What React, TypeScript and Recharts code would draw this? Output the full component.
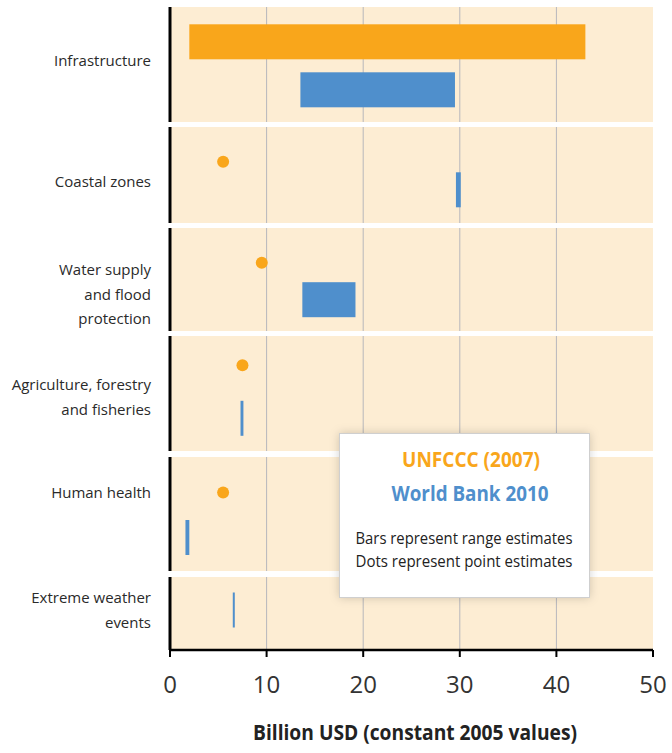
import React from 'react'
import { Bar, CartesianGrid, Cell, ComposedChart, ReferenceLine, XAxis, YAxis } from 'recharts'

const CATEGORY_LINES: string[][] = [
  ['Infrastructure'],
  ['Coastal zones'],
  ['Water supply', 'and flood', 'protection'],
  ['Agriculture, forestry', 'and fisheries'],
  ['Human health'],
  ['Extreme weather', 'events'],
]
// UNFCCC gives a range for infrastructure and point estimates elsewhere
const UNFCCC_RANGE: ([number, number] | null)[] = [[2, 43], null, null, null, null, null]
const UNFCCC_POINT: (number | null)[] = [null, 5.5, 9.5, 7.5, 5.5, null]
const WORLD_BANK_RANGE: [number, number][] = [
  [13.5, 29.5],
  [29.6, 30.1],
  [13.7, 19.2],
  [7.3, 7.6],
  [1.6, 2.0],
  [6.5, 6.7],
]
const X_TICKS = [0, 10, 20, 30, 40, 50]
const GRID_VALUES = [10, 20, 30, 40]
const SOURCES = ['UNFCCC (2007)', 'World Bank 2010']
const NOTES = ['Bars represent range estimates', 'Dots represent point estimates']
const AXIS_TITLE = 'Billion USD (constant 2005 values)'

const ORANGE = '#F9A61B'
const BLUE = '#4F8FCC'
const PANEL_BG = '#FDEDD3'
const FONT = '"Open Sans", Lato, sans-serif'

// panel geometry (page pixels)
const PANELS = [
  { top: 7, height: 115, padTop: 11, padBottom: 8, label: 66 },
  { top: 127, height: 96, padTop: 21, padBottom: 19, label: 187 },
  { top: 228, height: 103, padTop: 16, padBottom: 13, label: 275 },
  { top: 336, height: 115, padTop: 3, padBottom: 6, label: 390 },
  { top: 457, height: 114, padTop: 13, padBottom: 11, label: 498 },
  { top: 577, height: 73, padTop: 13, padBottom: 20, label: 603 },
]
const AXIS_HEIGHT = 103

type Row = { source: string; range: [number, number]; point: boolean; color: string }

function rowsFor(i: number): Row[] {
  const rows: Row[] = []
  const r = UNFCCC_RANGE[i]
  const p = UNFCCC_POINT[i]
  if (r) rows.push({ source: 'UNFCCC', range: r, point: false, color: ORANGE })
  else if (p != null) rows.push({ source: 'UNFCCC', range: [p, p], point: true, color: ORANGE })
  rows.push({ source: 'World Bank', range: WORLD_BANK_RANGE[i], point: false, color: BLUE })
  return rows
}

function RangeShape(props: any) {
  const { x, y, width, height, payload } = props
  const cy = y + height / 2
  if (payload.point) return <circle cx={x} cy={cy} r={6} fill={payload.color} />
  return <rect x={x} y={cy - 17.5} width={Math.max(width, 2)} height={35} fill={payload.color} />
}

// tick labels sit 43px under the axis line (plot bottom of the last panel)
function XTick(props: any) {
  const baseline = PANELS[PANELS.length - 1].height + 43
  return (
    <text x={props.x} y={baseline} textAnchor="middle" fontFamily={FONT} fontSize={24} fill="#333">
      {props.payload.value}
    </text>
  )
}

function AxisTitle() {
  const baseline = PANELS[PANELS.length - 1].height + 90
  return (
    <text
      x={415}
      y={baseline}
      textAnchor="middle"
      fontFamily={FONT}
      fontWeight="bold"
      fontSize={21}
      fill="#222"
      textLength={324}
      lengthAdjust="spacingAndGlyphs"
    >
      {AXIS_TITLE}
    </text>
  )
}

function Panel({ index }: { index: number }) {
  const layout = PANELS[index]
  const last = index === PANELS.length - 1
  const axisH = last ? AXIS_HEIGHT : 0
  const rows = rowsFor(index)
  return (
    <div style={{ position: 'absolute', left: 0, top: layout.top }}>
      <ComposedChart
        width={672}
        height={layout.height + axisH}
        data={rows}
        layout="vertical"
        margin={{ top: 0, right: 19, bottom: 0, left: 170 }}
      >
        <CartesianGrid horizontal={false} verticalValues={GRID_VALUES} stroke="#B7B7BC" fill={PANEL_BG} fillOpacity={1} />
        <XAxis
          type="number"
          domain={[0, 50]}
          ticks={X_TICKS}
          interval={0}
          hide={!last}
          height={axisH}
          axisLine={{ stroke: '#000', strokeWidth: 2.5 }}
          tickLine={{ stroke: '#000', strokeWidth: 2 }}
          tickSize={7}
          tick={<XTick />}
          label={last ? { content: <AxisTitle /> } : undefined}
        />
        <YAxis type="category" dataKey="source" hide padding={{ top: layout.padTop, bottom: layout.padBottom }} />
        <ReferenceLine x={0} stroke="#000" strokeWidth={3} />
        <Bar dataKey="range" shape={RangeShape} isAnimationActive={false}>
          {rows.map((row, i) => (
            <Cell key={i} fill={row.color} />
          ))}
        </Bar>
      </ComposedChart>
    </div>
  )
}

function Overlay() {
  return (
    <svg width={672} height={753} style={{ position: 'absolute', left: 0, top: 0, pointerEvents: 'none' }}>
      <defs>
        <filter id="legendShadow" x="-10%" y="-10%" width="120%" height="120%">
          <feDropShadow dx="0" dy="0" stdDeviation="5" floodColor="#000" floodOpacity="0.18" />
        </filter>
      </defs>
      {CATEGORY_LINES.map((lines, i) => (
        <text key={i} x={151} y={PANELS[i].label} textAnchor="end" fontFamily={FONT} fontSize={15} fill="#2a2a2a">
          {lines.map((line, j) => (
            <tspan key={j} x={151} dy={j === 0 ? 0 : 24.5}>
              {line}
            </tspan>
          ))}
        </text>
      ))}
      <rect x={339.5} y={433.5} width={250} height={164} fill="#fff" stroke="#cfcfcf" filter="url(#legendShadow)" />
      <text x={471} y={467} textAnchor="middle" fontFamily={FONT} fontWeight="bold" fontSize={21} fill={ORANGE} textLength={138} lengthAdjust="spacingAndGlyphs">
        {SOURCES[0]}
      </text>
      <text x={470} y={501} textAnchor="middle" fontFamily={FONT} fontWeight="bold" fontSize={21} fill={BLUE} textLength={157} lengthAdjust="spacingAndGlyphs">
        {SOURCES[1]}
      </text>
      {NOTES.map((note, i) => (
        <text key={i} x={464} y={544 + i * 23} textAnchor="middle" fontFamily={FONT} fontSize={16} fill="#222" textLength={217} lengthAdjust="spacingAndGlyphs">
          {note}
        </text>
      ))}
    </svg>
  )
}

export default function App() {
  return (
    <div style={{ position: 'absolute', left: 0, top: 0, width: 672, height: 753, background: '#fff', fontFamily: FONT }}>
      {PANELS.map((_, i) => (
        <Panel key={i} index={i} />
      ))}
      <Overlay />
    </div>
  )
}
